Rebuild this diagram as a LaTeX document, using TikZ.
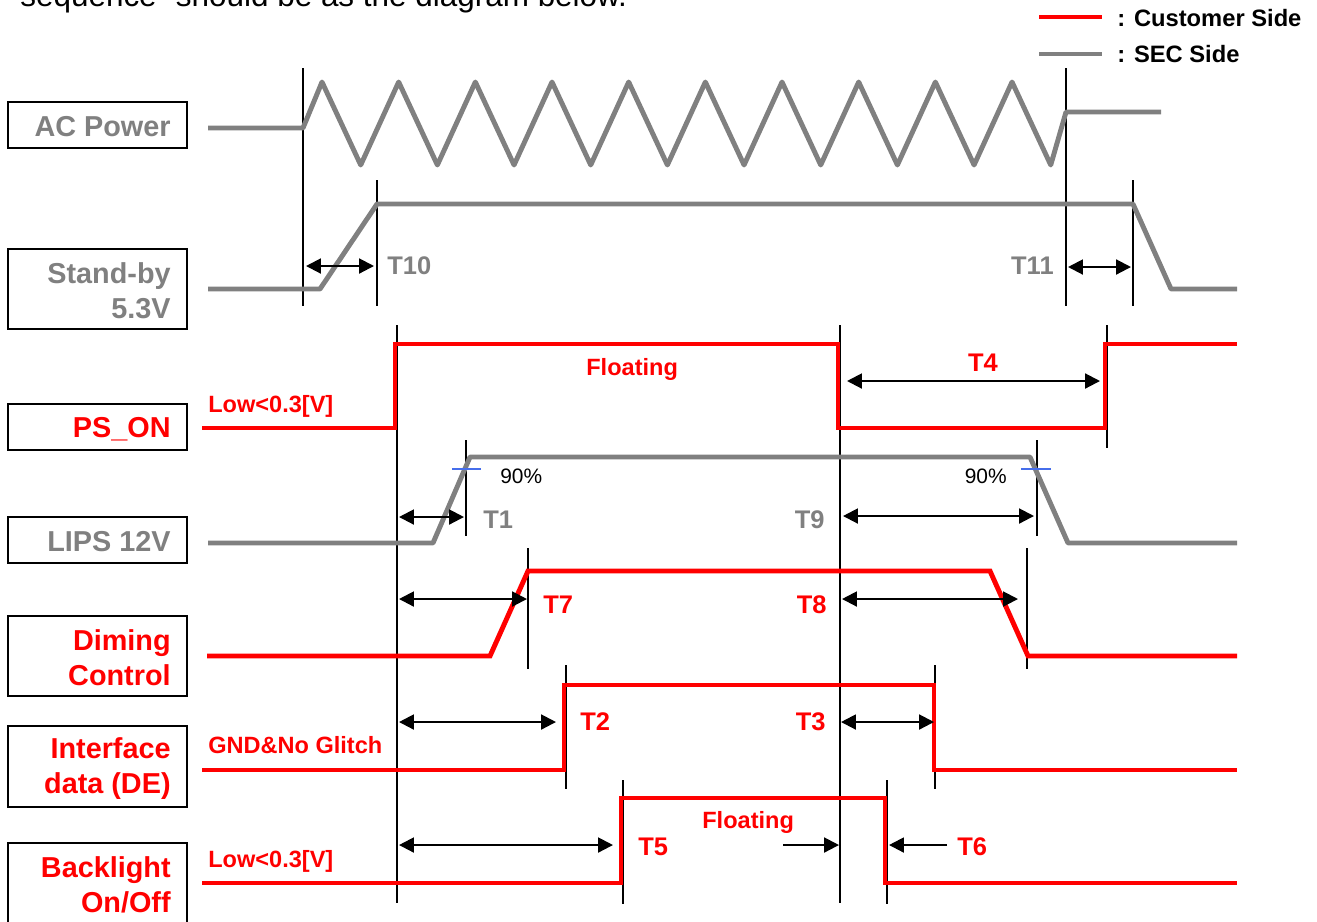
\documentclass[tikz,border=0pt]{standalone}
\usepackage{fontspec}
\setmainfont{Liberation Sans}
\usetikzlibrary{arrows.meta}
\definecolor{secgray}{RGB}{128,128,128}
\definecolor{custred}{RGB}{255,0,0}
\definecolor{tickblue}{RGB}{70,110,235}

\begin{document}
\begin{tikzpicture}[x=0.02cm, y=-0.02cm,
  every node/.style={inner sep=0pt},
  sec/.style={secgray, line width=2.8pt, line join=round},
  cust/.style={custred, line width=2.8pt},
  guide/.style={black, line width=0.8pt},
  lblbox/.style={black, line width=1.3pt},
  dimarr/.style={black, line width=1.2pt, {Triangle[length=8.5pt,width=8.5pt]}-{Triangle[length=8.5pt,width=8.5pt]}},
  onearr/.style={black, line width=1.2pt, -{Triangle[length=8.5pt,width=8.5pt]}},
  boxlbl/.style={anchor=base east, align=right, font=\bfseries\fontsize{16.4}{19.8}\selectfont},
  tlbl/.style={font=\bfseries\fontsize{14.5}{17}\selectfont},
  note/.style={font=\bfseries\fontsize{13.4}{16}\selectfont, text=custred}]
  \useasboundingbox (0,0) rectangle (1317,921);
  \node[anchor=base west, font=\fontsize{17.9}{21}\selectfont] (head) at (20,6) {sequence” should be as the diagram below.};
  \draw[custred, line width=2.8pt] (1039,17) -- (1102,17);
  \node[anchor=base west, font=\bfseries\fontsize{13.5}{16}\selectfont] (legc) at (1117,26) {: Customer Side};
  \draw[sec] (1039,54) -- (1102,54);
  \node[anchor=base west, font=\bfseries\fontsize{13.5}{16}\selectfont] (legs) at (1117,62) {: SEC Side};
  \draw[lblbox] (8,102) rectangle (187,148);
  \node[boxlbl, text=secgray] (acp) at (171,136) {AC Power};
  \draw[lblbox] (8,249) rectangle (187,329);
  \node[boxlbl, text=secgray] (stby) at (171,318) {Stand-by\\5.3V};
  \draw[lblbox] (8,404) rectangle (187,450);
  \node[boxlbl, text=custred] (pson) at (171,437) {PS\_ON};
  \draw[lblbox] (8,517) rectangle (187,563);
  \node[boxlbl, text=secgray] (lips) at (171,551) {LIPS 12V};
  \draw[lblbox] (8,616) rectangle (187,696);
  \node[boxlbl, text=custred] (dim) at (171,685) {Diming\\Control};
  \draw[lblbox] (8,726) rectangle (187,807);
  \node[boxlbl, text=custred] (ifd) at (171,793) {Interface\\data (DE)};
  \draw[lblbox] (8,843) rectangle (187,960);
  \node[boxlbl, text=custred] (blon) at (171,912) {Backlight\\On/Off};
  \draw[guide] (303,68) -- (303,306);
  \draw[guide] (377,180) -- (377,306);
  \draw[guide] (1066,68) -- (1066,306);
  \draw[guide] (1133,180) -- (1133,306);
  \draw[guide] (397,325) -- (397,903);
  \draw[guide] (840,325) -- (840,903);
  \draw[guide] (1107,325) -- (1107,448);
  \draw[guide] (466,440) -- (466,536);
  \draw[guide] (1037,440) -- (1037,536);
  \draw[guide] (528,548) -- (528,669);
  \draw[guide] (1027,548) -- (1027,669);
  \draw[guide] (566,665) -- (566,789);
  \draw[guide] (935,665) -- (935,789);
  \draw[guide] (623,780) -- (623,904);
  \draw[guide] (887,780) -- (887,904);
  \draw[sec] (208,128) -- (303,128) \foreach \k in {0,...,9} { -- ({322+76.67*\k},82) -- ({360.7+76.67*\k},165) } -- (1066,112) -- (1161,112);
  \draw[sec] (208,289) -- (320,289) -- (377,204) -- (1133,204) -- (1171,289) -- (1237,289);
  \draw[sec] (208,543) -- (433,543) -- (470,457) -- (1030,457) -- (1068,543) -- (1237,543);
  \draw[tickblue, line width=0.7pt] (452,469) -- (481,469);
  \draw[tickblue, line width=0.7pt] (1021,469) -- (1051,469);
  \draw[cust] (202,428) -- (395,428) -- (395,344) -- (838,344) -- (838,428) -- (1105,428) -- (1105,344) -- (1237,344);
  \draw[cust] (207,656) -- (490,656) -- (528,571) -- (990,571) -- (1028,656) -- (1237,656);
  \draw[cust] (202,770) -- (564,770) -- (564,685) -- (934,685) -- (934,770) -- (1237,770);
  \draw[cust] (202,883) -- (621,883) -- (621,798) -- (885,798) -- (885,883) -- (1237,883);
  \draw[dimarr] (306,266) -- (374,266);
  \node[tlbl, anchor=base west, text=secgray] (t10) at (387,274) {T10};
  \draw[dimarr] (1068,267) -- (1131,267);
  \node[tlbl, anchor=base east, text=secgray] (t11) at (1054,274) {T11};
  \node[note, anchor=base west] (lowa) at (208,412) {Low<0.3[V]};
  \node[note, anchor=base west] (floa) at (586,375) {Floating};
  \draw[dimarr] (847,381) -- (1100,381);
  \node[tlbl, anchor=base, text=custred] (t4) at (983,371) {T4};
  \node[anchor=base west, font=\fontsize{11.9}{14}\selectfont] (pcta) at (500,483) {90\%};
  \node[anchor=base east, font=\fontsize{11.9}{14}\selectfont] (pctb) at (1007,483) {90\%};
  \draw[dimarr] (399,517) -- (464,517);
  \node[tlbl, anchor=base west, text=secgray] (t1) at (483,528) {T1};
  \draw[dimarr] (843,516) -- (1034,516);
  \node[tlbl, anchor=base east, text=secgray] (t9) at (825,528) {T9};
  \draw[dimarr] (399,599) -- (527,599);
  \node[tlbl, anchor=base west, text=custred] (t7) at (543,613) {T7};
  \draw[dimarr] (842,599) -- (1018,599);
  \node[tlbl, anchor=base east, text=custred] (t8) at (827,613) {T8};
  \draw[dimarr] (399,722) -- (556,722);
  \node[tlbl, anchor=base west, text=custred] (t2) at (580,730) {T2};
  \draw[dimarr] (841,722) -- (934,722);
  \node[tlbl, anchor=base east, text=custred] (t3) at (826,730) {T3};
  \node[note, anchor=base west] (gnd) at (208,753) {GND\&No Glitch};
  \node[note, anchor=base west] (lowb) at (208,867) {Low<0.3[V]};
  \draw[dimarr] (399,845) -- (613,845);
  \node[tlbl, anchor=base west, text=custred] (t5) at (638,855) {T5};
  \node[note, anchor=base west] (flob) at (702,828) {Floating};
  \draw[onearr] (783,845) -- (839,845);
  \draw[onearr] (947,845) -- (889,845);
  \node[tlbl, anchor=base west, text=custred] (t6) at (957,855) {T6};
\end{tikzpicture}
\end{document}
